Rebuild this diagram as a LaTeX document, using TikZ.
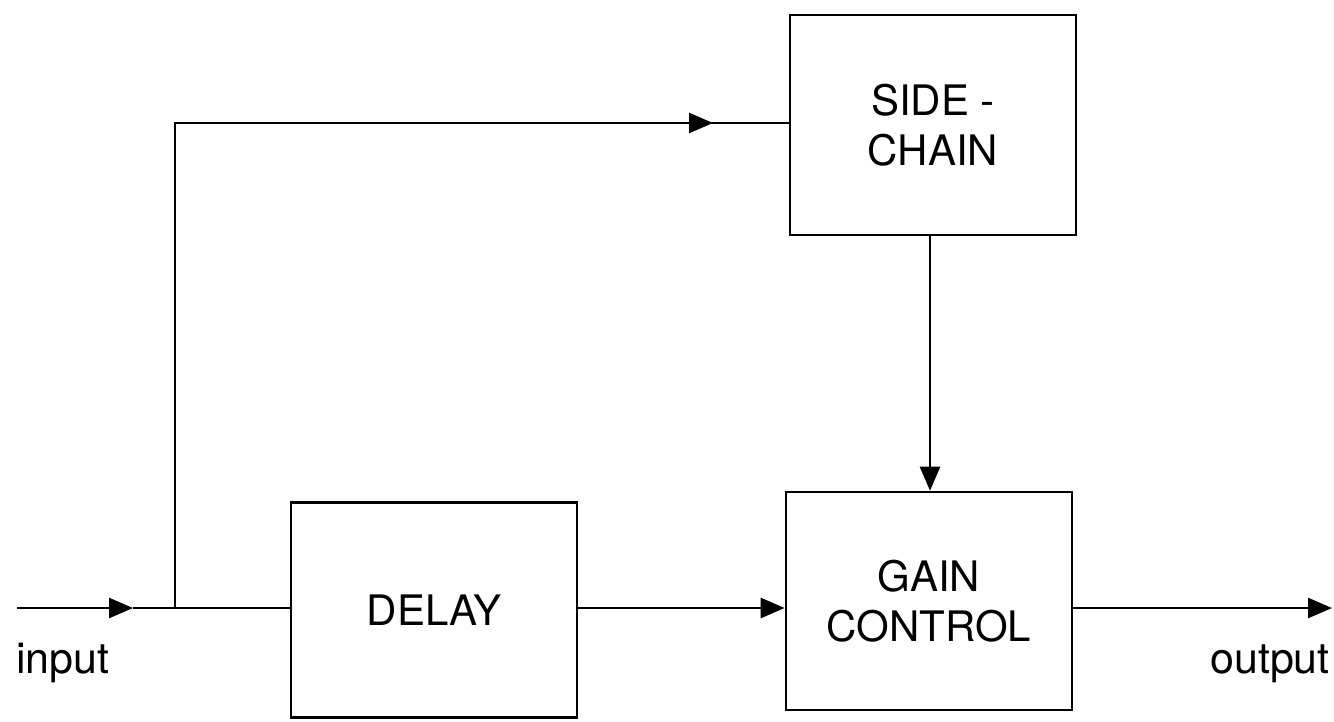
\documentclass[tikz,border=0pt]{standalone}
\usepackage{fontspec}
\setmainfont{TeX Gyre Heros}
\usetikzlibrary{arrows.meta}
\begin{document}
\begin{tikzpicture}[x=1pt,y=-1pt,
  blk/.style={draw,line width=2.6pt,inner sep=0pt,font=\fontsize{42}{50}\selectfont,align=center},
  wire/.style={line width=2.6pt},
  arr/.style={wire,-{Triangle[length=24pt,width=20pt]}},
  lbl/.style={font=\fontsize{43}{50}\selectfont,inner sep=0pt}]
\useasboundingbox (0,0) rectangle (1334,721);
\node[blk,minimum width=286pt,minimum height=220pt] (side) at (933,125) {SIDE -\\CHAIN};
\node[blk,minimum width=286pt,minimum height=215pt] (delay) at (434,610) {DELAY};
\node[blk,minimum width=286pt,minimum height=218pt] (gain) at (929,601) {GAIN\\CONTROL};
\coordinate (in) at (17,608);
\coordinate (inmid) at (133,608);
\coordinate (br) at (175,608);
\coordinate (top) at (175,123);
\coordinate (topmid) at (713,123);
\coordinate (out) at (1332,608);
\draw[arr] (in) -- (inmid);
\draw[wire] (inmid) -- (delay.west |- br);
\draw[wire] (br) -- (top) -- (topmid);
\draw[arr] (top) -- (topmid);
\draw[wire] (topmid) -- (side.west |- topmid);
\draw[arr] (delay.east |- br) -- (gain.west |- br);
\draw[arr] (side.south -| 930,0) -- (gain.north -| 930,0);
\draw[arr] (gain.east |- br) -- (out);
\node[lbl,anchor=base west] (inlbl) at (16,673) {input};
\node[lbl,anchor=base east] (outlbl) at (1330,673) {output};
\end{tikzpicture}
\end{document}
